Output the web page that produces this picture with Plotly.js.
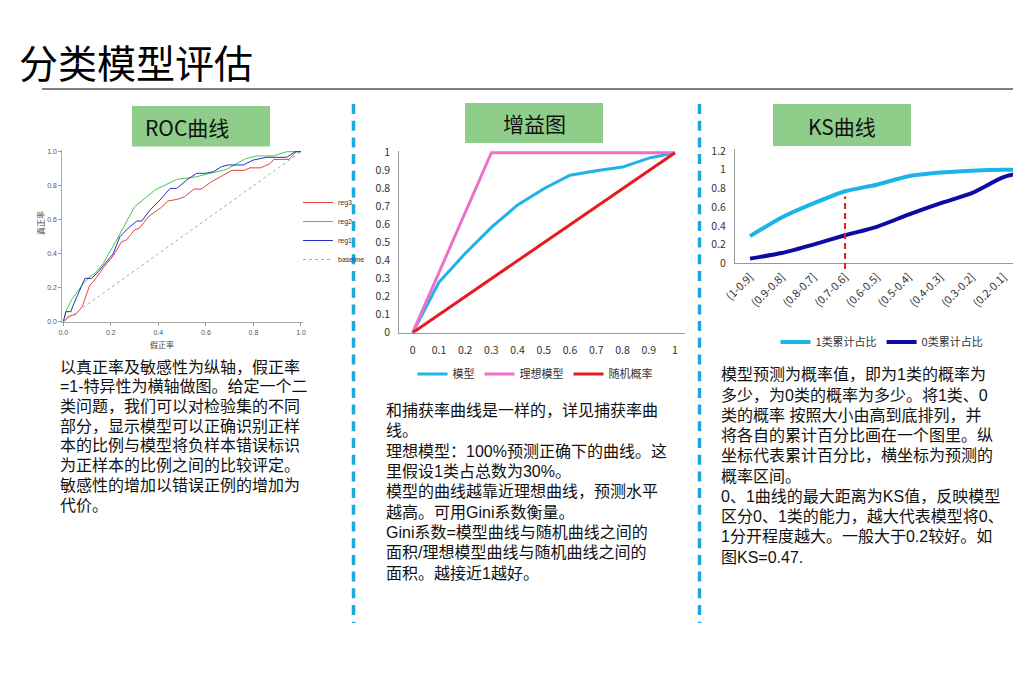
<!DOCTYPE html>
<html>
<head>
<meta charset="utf-8">
<script src="https://cdn.plot.ly/plotly-3.0.1.min.js"></script>
<style>
html,body{margin:0;padding:0;background:#fff;overflow:hidden;}
#chart{width:1013px;height:689px;}
</style>
</head>
<body>
<div id="chart"></div>
<script>
// ---------- DATA ----------
// ROC curves (false positive rate vs true positive rate)
const reg3Fpr = [0,0.01,0.02,0.04,0.05,0.07,0.08,0.1,0.11,0.14,0.17,0.2,0.22,0.245,0.265,0.3,0.32,0.36,0.41,0.44,0.48,0.51,0.55,0.58,0.62,0.67,0.71,0.76,0.785,0.83,0.87,0.885,0.95,0.98,1.0];
const reg3Tpr = [0,0.01,0.03,0.04,0.04,0.07,0.09,0.17,0.21,0.26,0.32,0.37,0.41,0.47,0.48,0.54,0.55,0.62,0.67,0.71,0.72,0.735,0.78,0.78,0.82,0.86,0.89,0.89,0.905,0.905,0.93,0.955,0.955,1.0,1.0];
const reg2Fpr = [0,0.014,0.035,0.056,0.084,0.112,0.133,0.168,0.224,0.3,0.386,0.477,0.519,0.561,0.645,0.687,0.764,0.813,0.884,0.94,1.0];
const reg2Tpr = [0,0.07,0.13,0.17,0.225,0.265,0.284,0.343,0.48,0.676,0.775,0.837,0.843,0.853,0.882,0.896,0.957,0.975,0.975,1.0,1.0];
const reg1Fpr = [0,0.011,0.032,0.042,0.091,0.119,0.147,0.189,0.21,0.238,0.273,0.309,0.33,0.365,0.407,0.449,0.477,0.519,0.561,0.596,0.631,0.666,0.694,0.757,0.8,0.855,0.94,0.975,1.0];
const reg1Tpr = [0,0.059,0.059,0.098,0.255,0.255,0.294,0.363,0.40,0.50,0.55,0.592,0.592,0.657,0.716,0.784,0.784,0.833,0.873,0.873,0.882,0.912,0.922,0.922,0.951,0.967,0.967,1.0,1.0];
const baselineX = [0,1];
const baselineY = [0,1];
const rocTicks = [0,0.2,0.4,0.6,0.8,1.0];

// Gain chart
const gainX = [0,0.1,0.2,0.3,0.4,0.5,0.6,0.7,0.8,0.9,1];
const gainModel = [0,0.28,0.44,0.585,0.71,0.80,0.875,0.90,0.92,0.97,1];
const idealX = [0,0.3,1];
const idealY = [0,1,1];
const randomX = [0,1];
const randomY = [0,1];
const gainTicks = [0,0.1,0.2,0.3,0.4,0.5,0.6,0.7,0.8,0.9,1];

// KS chart
const ksCats = ["(1-0.9]","(0.9-0.8]","(0.8-0.7]","(0.7-0.6]","(0.6-0.5]","(0.5-0.4]","(0.4-0.3]","(0.3-0.2]","(0.2-0.1]","(0.1-0]"];
const ks1 = [0.29,0.49,0.64,0.77,0.84,0.93,0.97,0.99,1.0,1.0];
const ks0 = [0.05,0.11,0.20,0.30,0.39,0.52,0.64,0.75,0.92,1.0];

// Text
const pageTitle = "分类模型评估";
const boxTitles = ["ROC曲线","增益图","KS曲线"];
const rocNotes = ["以真正率及敏感性为纵轴，假正率","=1-特异性为横轴做图。给定一个二","类问题，我们可以对检验集的不同","部分，显示模型可以正确识别正样","本的比例与模型将负样本错误标识","为正样本的比例之间的比较评定。","敏感性的增加以错误正例的增加为","代价。"];
const gainNotes = ["和捕获率曲线是一样的，详见捕获率曲","线。","理想模型：100%预测正确下的曲线。这","里假设1类占总数为30%。","模型的曲线越靠近理想曲线，预测水平","越高。可用Gini系数衡量。","Gini系数=模型曲线与随机曲线之间的","面积/理想模型曲线与随机曲线之间的","面积。越接近1越好。"];
const ksNotes = ["模型预测为概率值，即为1类的概率为","多少，为0类的概率为多少。将1类、0","类的概率 按照大小由高到底排列，并","将各自的累计百分比画在一个图里。纵","坐标代表累计百分比，横坐标为预测的","概率区间。","0、1曲线的最大距离为KS值，反映模型","区分0、1类的能力，越大代表模型将0、","1分开程度越大。一般大于0.2较好。如","图KS=0.47."];

// ---------- LAYOUT HELPERS ----------
const W = 1013, H = 689;
const FONT = "Noto Sans CJK SC, Noto Sans, sans-serif";
const BODY_FONT = "Liberation Sans, Noto Sans CJK SC, sans-serif";
function xd(p0, v0, p1, v1, r) { const k = (p1 - p0) / (v1 - v0); return [(p0 + (r[0] - v0) * k) / W, (p0 + (r[1] - v0) * k) / W]; }
function yd(p0, v0, p1, v1, r) { const k = (p1 - p0) / (v1 - v0); return [1 - (p0 + (r[0] - v0) * k) / H, 1 - (p0 + (r[1] - v0) * k) / H]; }
const px = v => v / W, py = v => 1 - v / H;

const rocXR = [-0.004, 1.01], rocYR = [-0.004, 1.01];
const gainXR = [-0.0511, 1.0393], gainYR = [0, 1.012];
const ksXR = [-0.474, 8.3], ksYR = [0, 1.22];

const rocXD = xd(63.3, 0, 301, 1, rocXR), rocYD = yd(321.7, 0, 151.7, 1, rocYR);
const gainXD = xd(412.7, 0, 675, 1, gainXR), gainYD = yd(332.7, 0, 152.7, 1, gainYR);
const ksXD = [735 / W, 1], ksYD = yd(263.3, 0, 151, 1.2, ksYR);

// KS index = max gap between curves
let ksIdx = 0, ksMax = -1;
ks1.forEach((v, i) => { const d = v - ks0[i]; if (d > ksMax) { ksMax = d; ksIdx = i; } });
const ksPaper = v => ksYD[0] + (v - ksYR[0]) / (ksYR[1] - ksYR[0]) * (ksYD[1] - ksYD[0]);

// ---------- TRACES ----------
const traces = [
  {x: reg3Fpr, y: reg3Tpr, name: "reg3", mode: "lines", line: {color: "#e0443f", width: 1}, xaxis: "x", yaxis: "y", legend: "legend"},
  {x: reg2Fpr, y: reg2Tpr, name: "reg2", mode: "lines", line: {color: "#45c945", width: 1}, xaxis: "x", yaxis: "y", legend: "legend"},
  {x: reg1Fpr, y: reg1Tpr, name: "reg1", mode: "lines", line: {color: "#2c2cc8", width: 1}, xaxis: "x", yaxis: "y", legend: "legend"},
  {x: baselineX, y: baselineY, name: "baseline", mode: "lines", line: {color: "#aaaaaa", width: 1, dash: "dot"}, xaxis: "x", yaxis: "y", legend: "legend"},

  {x: gainX, y: gainModel, name: "模型", mode: "lines", line: {color: "#1fb2e6", width: 3}, xaxis: "x2", yaxis: "y2", legend: "legend2"},
  {x: idealX, y: idealY, name: "理想模型", mode: "lines", line: {color: "#f06fc9", width: 3}, xaxis: "x2", yaxis: "y2", legend: "legend2"},
  {x: randomX, y: randomY, name: "随机概率", mode: "lines", line: {color: "#e61a20", width: 3}, xaxis: "x2", yaxis: "y2", legend: "legend2"},

  {x: ksCats, y: ks1, name: "1类累计占比", mode: "lines", line: {color: "#1cb4e8", width: 4, shape: "spline", smoothing: 0.6}, xaxis: "x3", yaxis: "y3", legend: "legend3"},
  {x: ksCats, y: ks0, name: "0类累计占比", mode: "lines", line: {color: "#0c0ca4", width: 4, shape: "spline", smoothing: 0.6}, xaxis: "x3", yaxis: "y3", legend: "legend3"}
];

// ---------- ANNOTATIONS ----------
const ann = [];
ann.push({text: pageTitle, x: px(17), y: py(61), xref: "paper", yref: "paper", xanchor: "left", yanchor: "middle", showarrow: false, font: {family: FONT, size: 39, color: "#000"}});
ann.push({text: boxTitles[0], x: px(143), y: py(127), xref: "paper", yref: "paper", xanchor: "left", yanchor: "middle", showarrow: false, font: {family: FONT, size: 21, color: "#111"}});
ann.push({text: boxTitles[1], x: px(534), y: py(123), xref: "paper", yref: "paper", xanchor: "center", yanchor: "middle", showarrow: false, font: {family: FONT, size: 21, color: "#111"}});
ann.push({text: boxTitles[2], x: px(842), y: py(126), xref: "paper", yref: "paper", xanchor: "center", yanchor: "middle", showarrow: false, font: {family: FONT, size: 21, color: "#111"}});
// ROC axis titles
ann.push({text: "假正率", x: px(162), y: py(344), xref: "paper", yref: "paper", xanchor: "center", yanchor: "middle", showarrow: false, font: {family: FONT, size: 8, color: "#444"}});
ann.push({text: "真正率", x: px(40), y: py(223), xref: "paper", yref: "paper", xanchor: "center", yanchor: "middle", textangle: -90, showarrow: false, font: {family: FONT, size: 8, color: "#444"}});

// One text per line, centred on the measured line positions
function addLines(lines, left, firstY, lastY) {
  const step = (lastY - firstY) / (lines.length - 1);
  lines.forEach((t, i) => ann.push({text: t, x: px(left), y: py(firstY + i * step), xref: "paper", yref: "paper", xanchor: "left", yanchor: "middle", align: "left", showarrow: false, borderpad: 0, font: {family: BODY_FONT, size: 16, color: "#111"}}));
}
addLines(rocNotes, 59, 367, 505);
addLines(gainNotes, 385, 410.5, 573);
addLines(ksNotes, 720, 375, 557);

// ---------- SHAPES ----------
const GREEN = "#8fcd8b";
const shapes = [
  {type: "line", xref: "paper", yref: "paper", x0: px(42), x1: 1, y0: py(89), y1: py(89), line: {color: "#000", width: 1}},
  {type: "rect", xref: "paper", yref: "paper", x0: px(132), x1: px(270), y0: py(146.5), y1: py(106), fillcolor: GREEN, line: {width: 0}},
  {type: "rect", xref: "paper", yref: "paper", x0: px(465), x1: px(603), y0: py(143), y1: py(103), fillcolor: GREEN, line: {width: 0}},
  {type: "rect", xref: "paper", yref: "paper", x0: px(773), x1: px(911), y0: py(146), y1: py(104), fillcolor: GREEN, line: {width: 0}},
  {type: "line", xref: "paper", yref: "paper", x0: px(353.5), x1: px(353.5), y0: py(104), y1: py(623), line: {color: "#1ea8de", width: 3.5, dash: "10px,6.7px"}},
  {type: "line", xref: "paper", yref: "paper", x0: px(699.5), x1: px(699.5), y0: py(104), y1: py(623), line: {color: "#1ea8de", width: 3.5, dash: "10px,6.7px"}},
  {type: "line", xref: "x3", yref: "paper", x0: ksIdx, x1: ksIdx, y0: ksPaper(-0.06), y1: ksPaper(ks1[ksIdx] - 0.055), line: {color: "#e01c1c", width: 2, dash: "6px,4px"}}
];

// ---------- LAYOUT ----------
const baseAxis = {showgrid: false, zeroline: false, showline: true, fixedrange: true};
const layout = {
  width: W, height: H,
  margin: {l: 0, r: 0, t: 0, b: 0, pad: 0},
  paper_bgcolor: "#fff", plot_bgcolor: "rgba(0,0,0,0)",
  font: {family: FONT, color: "#333"},
  showlegend: true,
  xaxis: Object.assign({}, baseAxis, {domain: rocXD, range: rocXR, anchor: "y", tickvals: rocTicks, tickformat: ".1f", ticks: "outside", ticklen: 3, tickcolor: "#999", linecolor: "#aaa", linewidth: 1, tickfont: {size: 7, color: "#555", family: "Liberation Sans, Arial, sans-serif"}}),
  yaxis: Object.assign({}, baseAxis, {domain: rocYD, range: rocYR, anchor: "x", tickvals: rocTicks, tickformat: ".1f", ticks: "outside", ticklen: 3, tickcolor: "#999", linecolor: "#aaa", linewidth: 1, tickfont: {size: 7, color: "#555", family: "Liberation Sans, Arial, sans-serif"}}),
  xaxis2: Object.assign({}, baseAxis, {domain: gainXD, range: gainXR, anchor: "y2", tickvals: gainTicks, ticks: "", linecolor: "#999", linewidth: 1, ticklabelstandoff: 8, tickfont: {size: 10.5, color: "#333"}}),
  yaxis2: Object.assign({}, baseAxis, {domain: gainYD, range: gainYR, anchor: "x2", tickvals: gainTicks, ticks: "", linecolor: "#999", linewidth: 1, ticklabelstandoff: 6, tickfont: {size: 10.5, color: "#333"}}),
  xaxis3: Object.assign({}, baseAxis, {domain: ksXD, range: ksXR, anchor: "y3", type: "category", categoryorder: "array", categoryarray: ksCats, tickangle: -45, ticks: "", linecolor: "#999", linewidth: 1, ticklabelstandoff: 2, tickfont: {size: 11, color: "#333"}}),
  yaxis3: Object.assign({}, baseAxis, {domain: ksYD, range: ksYR, anchor: "x3", dtick: 0.2, ticks: "", linecolor: "#999", linewidth: 1, ticklabelstandoff: 6, tickfont: {size: 10.5, color: "#333"}}),
  legend: {x: px(298), y: py(231), xanchor: "left", yanchor: "middle", bgcolor: "rgba(0,0,0,0)", font: {size: 7, color: "#333", family: "Liberation Sans, Arial, sans-serif"}, tracegroupgap: 0, itemwidth: 30},
  legend2: {orientation: "h", x: px(535), y: py(374), xanchor: "center", yanchor: "middle", bgcolor: "rgba(0,0,0,0)", font: {size: 11, color: "#333"}},
  legend3: {orientation: "h", x: px(882), y: py(342), xanchor: "center", yanchor: "middle", bgcolor: "rgba(0,0,0,0)", font: {size: 11, color: "#333"}},
  annotations: ann,
  shapes: shapes
};

Plotly.newPlot("chart", traces, layout, {staticPlot: true, displayModeBar: false});
</script>
</body>
</html>
